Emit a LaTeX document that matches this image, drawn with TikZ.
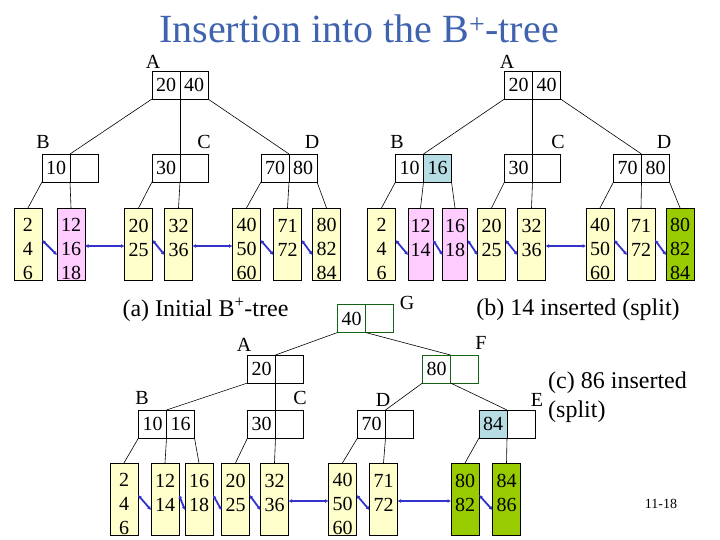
\documentclass[tikz,border=0pt]{standalone}
\usepackage{fontspec}
\setmainfont{Liberation Serif}
\usetikzlibrary{arrows.meta, positioning}
\definecolor{leafyellow}{RGB}{255,255,204}
\definecolor{leafpink}{RGB}{255,204,255}
\definecolor{leafgreen}{RGB}{153,204,0}
\definecolor{keyblue}{RGB}{183,221,228}
\definecolor{rootgreen}{RGB}{20,100,20}
\definecolor{linkblue}{RGB}{51,51,204}
\definecolor{titleblue}{RGB}{63,99,174}
\newcommand{\leafkeys}[3]{\rule{0pt}{24pt}#1\\#2\\#3\rule{0pt}{10pt}}

\begin{document}
\begin{tikzpicture}[
    x=1pt, y=-1pt,
    cell/.style={draw, minimum width=28pt, minimum height=28pt, inner sep=0pt, outer sep=0pt, font=\fontsize{20}{24}\selectfont},
    leaf/.style={draw, fill=#1, minimum width=28pt, minimum height=72pt, inner xsep=1pt, inner ysep=0pt, outer sep=0pt, align=center, font=\fontsize{20}{24}\selectfont},
    leaf/.default=leafyellow,
    tag/.style={inner sep=0pt, font=\fontsize{20}{24}\selectfont},
    caption/.style={inner sep=0pt, font=\fontsize{24}{29}\selectfont, align=left},
    tree/.style={line width=0.6pt},
    link/.style={draw=linkblue, line width=1.8pt, {Latex[length=3.5pt,width=4pt]}-{Latex[length=3.5pt,width=4pt]}}
]
    \useasboundingbox (0,0) rectangle (720,540);

    % Title
    \node[inner sep=0pt, font=\fontsize{40}{44}\selectfont, text=titleblue] (title) at (359,29) {Insertion into the B\textsuperscript{+}-tree};

    % (a) Initial tree
    \node[cell] (aAl) at (166,85) {20};
    \node[cell, right=0pt of aAl] (aAr) {40};
    \node[cell] (aBl) at (56,168) {10};
    \node[cell, right=0pt of aBl] (aBr) {};
    \node[cell] (aCl) at (166,168) {30};
    \node[cell, right=0pt of aCl] (aCr) {};
    \node[cell] (aDl) at (275,168) {70};
    \node[cell, right=0pt of aDl] (aDr) {80};
    \node[tag] (aAt) at (153,62) {A};
    \node[tag] (aBt) at (43,142) {B};
    \node[tag] (aCt) at (204,142) {C};
    \node[tag] (aDt) at (312,142) {D};

    \node[leaf] (a1) at (28,244) {\leafkeys{2}{4}{6}};
    \node[leaf=leafpink] (a2) at (71,244) {\leafkeys{12}{16}{18}};
    \node[leaf] (a3) at (138.5,244) {\leafkeys{20}{25}{}};
    \node[leaf] (a4) at (178.5,244) {\leafkeys{32}{36}{}};
    \node[leaf] (a5) at (246.5,244) {\leafkeys{40}{50}{60}};
    \node[leaf] (a6) at (287.5,244) {\leafkeys{71}{72}{}};
    \node[leaf] (a7) at (326.5,244) {\leafkeys{80}{82}{84}};

    \draw[tree] (aAl.south west) -- (aBl.north east);
    \draw[tree] (aAl.south east) -- (aCl.north east);
    \draw[tree] (aAr.south east) -- (aDl.north east);
    \draw[tree] (aBl.south west) -- (a1.north);
    \draw[tree] (aBl.south east) -- (a2.north);
    \draw[tree] (aCl.south west) -- (a3.north);
    \draw[tree] (aCl.south east) -- (a4.north);
    \draw[tree] (aDl.south west) -- (a5.north);
    \draw[tree] (aDl.south east) -- (a6.north);
    \draw[tree] (aDr.south east) -- (a7.north);

    \foreach \l/\r in {a1/a2, a3/a4, a5/a6, a6/a7}
        \draw[link] ([yshift=4pt]\l.east) -- ([yshift=-11pt]\r.west);
    \foreach \l/\r in {a2/a3, a4/a5}
        \draw[link] ([yshift=-2pt]\l.east) -- ([yshift=-2pt]\r.west);

    % (b) 14 inserted
    \node[cell] (bAl) at (518.5,85) {20};
    \node[cell, right=0pt of bAl] (bAr) {40};
    \node[cell] (bBl) at (409.5,168) {10};
    \node[cell, fill=keyblue, right=0pt of bBl] (bBr) {16};
    \node[cell] (bCl) at (518.5,168) {30};
    \node[cell, right=0pt of bCl] (bCr) {};
    \node[cell] (bDl) at (627.5,168) {70};
    \node[cell, right=0pt of bDl] (bDr) {80};
    \node[tag] (bAt) at (507,62) {A};
    \node[tag] (bBt) at (397,142) {B};
    \node[tag] (bCt) at (558,142) {C};
    \node[tag] (bDt) at (664,142) {D};

    \node[leaf] (b1) at (381.5,244) {\leafkeys{2}{4}{6}};
    \node[leaf=leafpink, minimum width=25pt] (b2) at (420.5,244) {\leafkeys{12}{14}{}};
    \node[leaf=leafpink, minimum width=25pt] (b3) at (455,244) {\leafkeys{16}{18}{}};
    \node[leaf] (b4) at (491.5,244) {\leafkeys{20}{25}{}};
    \node[leaf] (b5) at (531.5,244) {\leafkeys{32}{36}{}};
    \node[leaf] (b6) at (600,244) {\leafkeys{40}{50}{60}};
    \node[leaf] (b7) at (641,244) {\leafkeys{71}{72}{}};
    \node[leaf=leafgreen] (b8) at (680,244) {\leafkeys{80}{82}{84}};

    \draw[tree] (bAl.south west) -- (bBl.north east);
    \draw[tree] (bAl.south east) -- (bCl.north east);
    \draw[tree] (bAr.south east) -- (bDl.north east);
    \draw[tree] (bBl.south west) -- (b1.north);
    \draw[tree] (bBl.south east) -- (b2.north);
    \draw[tree] (bBr.south east) -- (b3.north);
    \draw[tree] (bCl.south west) -- (b4.north);
    \draw[tree] (bCl.south east) -- (b5.north);
    \draw[tree] (bDl.south west) -- (b6.north);
    \draw[tree] (bDl.south east) -- (b7.north);
    \draw[tree] (bDr.south east) -- (b8.north);

    \foreach \l/\r in {b1/b2, b2/b3, b3/b4, b4/b5, b6/b7, b7/b8}
        \draw[link] ([yshift=4pt]\l.east) -- ([yshift=-11pt]\r.west);
    \draw[link] ([yshift=-2pt]b5.east) -- ([yshift=-2pt]b6.west);

    % (c) 86 inserted
    \node[cell, draw=rootgreen] (cGl) at (351.5,318.5) {40};
    \node[cell, draw=rootgreen, right=0pt of cGl] (cGr) {};
    \node[cell] (cAl) at (261.5,369) {20};
    \node[cell, right=0pt of cAl] (cAr) {};
    \node[cell, draw=rootgreen] (cFl) at (436.5,369) {80};
    \node[cell, draw=rootgreen, right=0pt of cFl] (cFr) {};
    \node[cell] (cBl) at (152.5,424) {10};
    \node[cell, right=0pt of cBl] (cBr) {16};
    \node[cell] (cCl) at (261.5,424) {30};
    \node[cell, right=0pt of cCl] (cCr) {};
    \node[cell] (cDl) at (371.5,424) {70};
    \node[cell, right=0pt of cDl] (cDr) {};
    \node[cell, fill=keyblue] (cEl) at (493,424) {84};
    \node[cell, right=0pt of cEl] (cEr) {};
    \node[tag] (cGt) at (407,303) {G};
    \node[tag] (cAt) at (244,345) {A};
    \node[tag] (cFt) at (481,343) {F};
    \node[tag] (cBt) at (142,398) {B};
    \node[tag] (cCt) at (300,398) {C};
    \node[tag] (cDt) at (383,400) {D};
    \node[tag] (cEt) at (537,400) {E};

    \node[leaf] (c1) at (124,499) {\leafkeys{2}{4}{6}};
    \node[leaf] (c2) at (165,499) {\leafkeys{12}{14}{}};
    \node[leaf] (c3) at (199,499) {\leafkeys{16}{18}{}};
    \node[leaf] (c4) at (235.5,499) {\leafkeys{20}{25}{}};
    \node[leaf] (c5) at (274.5,499) {\leafkeys{32}{36}{}};
    \node[leaf] (c6) at (342.5,499) {\leafkeys{40}{50}{60}};
    \node[leaf] (c7) at (383.5,499) {\leafkeys{71}{72}{}};
    \node[leaf=leafgreen] (c8) at (465,499) {\leafkeys{80}{82}{}};
    \node[leaf=leafgreen] (c9) at (506.5,499) {\leafkeys{84}{86}{}};

    \draw[tree] (cGl.south west) -- (cAl.north east);
    \draw[tree] (cGl.south east) -- (cFl.north east);
    \draw[tree] (cAl.south west) -- (cBl.north east);
    \draw[tree] (cAl.south east) -- (cCl.north east);
    \draw[tree] (cFl.south west) -- (cDl.north east);
    \draw[tree] (cFl.south east) -- (cEl.north east);
    \draw[tree] (cBl.south west) -- (c1.north);
    \draw[tree] (cBl.south east) -- (c2.north);
    \draw[tree] (cBr.south east) -- (c3.north);
    \draw[tree] (cCl.south west) -- (c4.north);
    \draw[tree] (cCl.south east) -- (c5.north);
    \draw[tree] (cDl.south west) -- (c6.north);
    \draw[tree] (cDl.south east) -- (c7.north);
    \draw[tree] (cEl.south west) -- (c8.north);
    \draw[tree] (cEl.south east) -- (c9.north);

    \foreach \l/\r in {c1/c2, c2/c3, c3/c4, c4/c5, c6/c7, c8/c9}
        \draw[link] ([yshift=4pt]\l.east) -- ([yshift=-11pt]\r.west);
    \foreach \l/\r in {c5/c6, c7/c8}
        \draw[link] ([yshift=-2pt]\l.east) -- ([yshift=-2pt]\r.west);

    % Captions
    \node[caption] (capa) at (205.5,310) {(a) Initial B\textsuperscript{+}-tree};
    \node[caption] (capb) at (578,310) {(b) 14 inserted (split)};
    \node[caption, anchor=west] (capc) at (548,397) {(c) 86 inserted\\(split)};
    \node[inner sep=0pt, font=\fontsize{14}{16}\selectfont] (page) at (661,504) {11-18};
\end{tikzpicture}
\end{document}
